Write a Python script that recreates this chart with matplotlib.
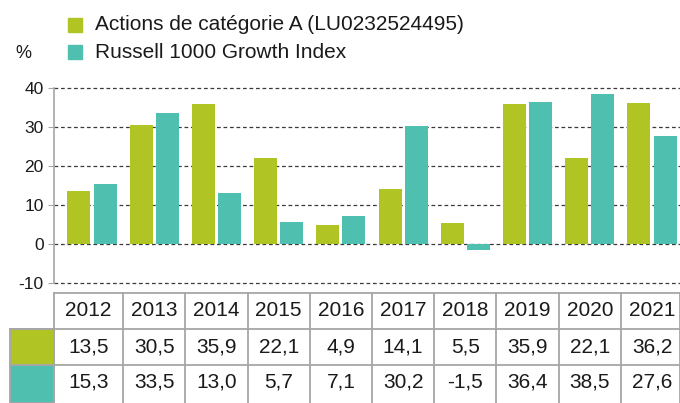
import matplotlib
matplotlib.use("Agg")
import matplotlib.pyplot as plt
from matplotlib.patches import Rectangle

plt.rcParams["font.family"] = ["Liberation Sans", "DejaVu Sans"]
plt.rcParams["axes.unicode_minus"] = False

YEARS = ["2012", "2013", "2014", "2015", "2016", "2017", "2018", "2019", "2020", "2021"]
FUND = [13.5, 30.5, 35.9, 22.1, 4.9, 14.1, 5.5, 35.9, 22.1, 36.2]
INDEX = [15.3, 33.5, 13.0, 5.7, 7.1, 30.2, -1.5, 36.4, 38.5, 27.6]
LABELS = ["Actions de catégorie A (LU0232524495)", "Russell 1000 Growth Index"]
COLORS = ["#b0c424", "#4fbfb0"]
GRID = "#a6a6a6"

W, H = 680, 403
fig = plt.figure(figsize=(W / 100, H / 100), dpi=100)


def fx(px):
    return px / W


def fy(py):
    return 1 - py / H


# ---- bar chart
ax = fig.add_axes([fx(54), fy(283), fx(626), (283 - 88) / H])
XL = (-0.61, 9.45)
x = range(len(YEARS))
bw = 0.37
ax.bar([i - 0.21 for i in x], FUND, bw, color=COLORS[0], zorder=2)
ax.bar([i + 0.21 for i in x], INDEX, bw, color=COLORS[1], zorder=2)
ax.set_xlim(*XL)
ax.set_ylim(-10, 40)
ax.set_yticks(range(-10, 41, 10))
ax.set_xticks([])
for v in range(-10, 41, 10):
    ax.axhline(v, color="#3a3a3a", lw=0.9, ls=(0, (3, 2.2)), zorder=1, clip_on=False)
for s in ("top", "right", "bottom"):
    ax.spines[s].set_visible(False)
ax.spines["left"].set_color(GRID)
ax.spines["left"].set_linewidth(1.2)
ax.tick_params(axis="y", length=4.5, color=GRID, labelsize=12.5, pad=3,
               labelcolor="#1a1a1a")

fig.text(fx(15), fy(53), "%", fontsize=13, va="center", ha="left", color="#1a1a1a")

# ---- legend
for k, (lab, col) in enumerate(zip(LABELS, COLORS)):
    yc = 25 + k * 27
    fig.patches.append(Rectangle((fx(68), fy(yc + 7)), fx(14), 14 / H,
                                 transform=fig.transFigure, color=col))
    fig.text(fx(95), fy(yc), lab, fontsize=15, va="center", ha="left",
             color="#1a1a1a")

# ---- data table
tb = fig.add_axes([fx(54), 0, fx(626), (H - 293) / H])
tb.set_xlim(*XL)
tb.set_ylim(H + 4, 293)
tb.axis("off")
rows = [293, 330, 368, H + 4]
bounds = [XL[0]] + [i + 0.5 for i in range(len(YEARS) - 1)] + [XL[1]]
left = -1.32
lw = 1.3
tb.plot([XL[0], XL[1]], [rows[0], rows[0]], color=GRID, lw=lw, clip_on=False)
for r in rows[1:3]:
    tb.plot([left, XL[1]], [r, r], color=GRID, lw=lw, clip_on=False)
for b in bounds:
    tb.plot([b, b], [rows[0], rows[3]], color=GRID, lw=lw, clip_on=False)
for k, col in enumerate(COLORS):
    tb.add_patch(Rectangle((left, rows[k + 1]), XL[0] - left, rows[k + 2] - rows[k + 1],
                           facecolor=col, edgecolor=GRID, lw=lw, clip_on=False))
for i, yr in enumerate(YEARS):
    xc = (bounds[i] + bounds[i + 1]) / 2 if i == 0 else i
    tb.text(xc, (rows[0] + rows[1]) / 2, yr, ha="center", va="center",
            fontsize=15, color="#1a1a1a")
    for k, vals in enumerate([FUND, INDEX]):
        tb.text(xc, (rows[k + 1] + rows[k + 2]) / 2 - (2 if k == 1 else 0),
                f"{vals[i]:.1f}".replace(".", ","), ha="center", va="center",
                fontsize=15, color="#1a1a1a")

fig.savefig("out.png", dpi=100)
